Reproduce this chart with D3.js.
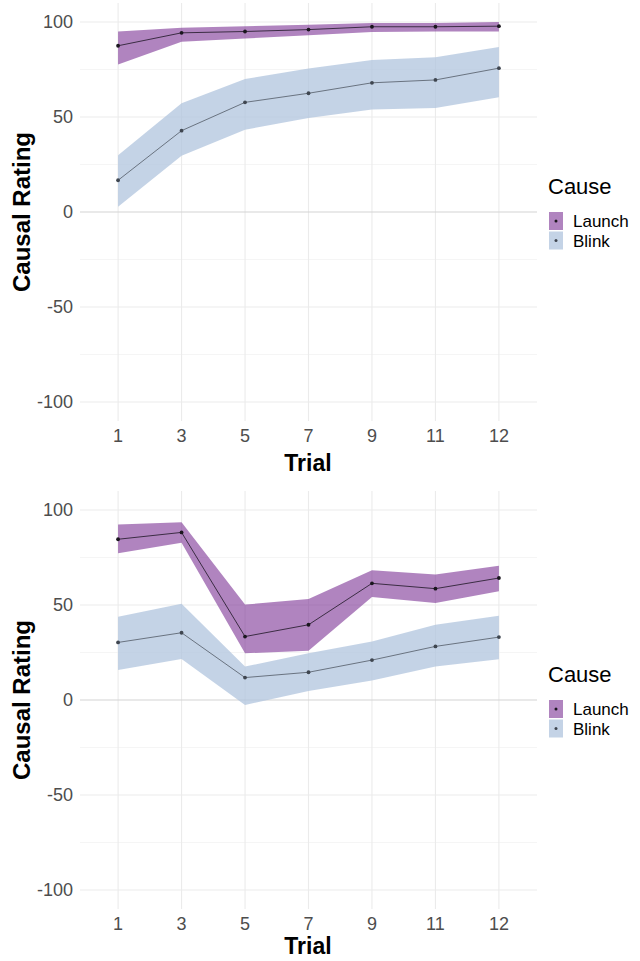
<!DOCTYPE html>
<html><head><meta charset="utf-8">
<script src="https://cdn.jsdelivr.net/npm/d3@7"></script>
<style>body{margin:0;background:#fff}svg{display:block;font-family:"Liberation Sans",Arial,sans-serif}</style>
</head><body>
<script>
const trials = ["1","3","5","7","9","11","12"];
const causes = ["Launch","Blink"];
const yTicks = [-100,-50,0,50,100];
const yMinor = [-75,-25,25,75];
// Panel 1
const launchMeanA = [87.5, 94.3, 95.0, 96.0, 97.5, 97.5, 97.8];
const launchLowA  = [77.6, 89.6, 91.3, 93.0, 94.7, 95.0, 95.0];
const launchHighA = [95.0, 97.0, 97.8, 98.5, 99.5, 99.5, 100];
const blinkMeanA  = [16.7, 42.8, 57.7, 62.5, 68.0, 69.5, 75.7];
const blinkLowA   = [2.8, 29.6, 43.3, 49.5, 53.9, 54.8, 60.4];
const blinkHighA  = [29.9, 57.2, 70.0, 75.5, 80.0, 81.5, 86.8];
// Panel 2
const launchMeanB = [84.6, 88.2, 33.4, 39.6, 61.4, 58.6, 64.2];
const launchLowB  = [77.2, 82.7, 24.6, 25.9, 54.2, 51.0, 57.2];
const launchHighB = [92.4, 93.5, 50.2, 53.2, 68.3, 66.0, 70.6];
const blinkMeanB  = [30.3, 35.4, 11.8, 14.6, 21.0, 28.2, 33.1];
const blinkLowB   = [15.8, 21.6, -2.6, 4.8, 10.2, 17.6, 21.5];
const blinkHighB  = [43.8, 50.7, 17.6, 24.6, 30.8, 39.6, 44.3];

const fills = {Launch:"#7b3294", Blink:"#b0c4de"};
const fillOp = {Launch:0.6, Blink:0.75};
const lineCol = {Launch:"#2e2236", Blink:"#5f6874"};
const ptCol = {Launch:"#1a161e", Blink:"#3f4650"};

const svg = d3.select("body").append("svg").attr("width",640).attr("height",961);

function panel(off, series, trialY){
  const g = svg.append("g").attr("transform",`translate(0,${off})`);
  const x = d3.scalePoint().domain(trials).range([80,537]).padding(0.6);
  const y = d3.scaleLinear().domain([-110,110]).range([421,3]);
  // grid
  g.selectAll(".ymin").data(yMinor).join("line")
    .attr("x1",80).attr("x2",537).attr("y1",d=>y(d)).attr("y2",d=>y(d))
    .attr("stroke","#f0f0f0").attr("stroke-width",0.7);
  g.selectAll(".ymaj").data(yTicks.filter(d=>d!==0)).join("line")
    .attr("x1",80).attr("x2",537).attr("y1",d=>y(d)).attr("y2",d=>y(d))
    .attr("stroke","#ebebeb").attr("stroke-width",1.1);
  g.selectAll(".xmaj").data(trials).join("line")
    .attr("x1",d=>x(d)).attr("x2",d=>x(d)).attr("y1",3).attr("y2",421)
    .attr("stroke","#ebebeb").attr("stroke-width",1.1);
  g.append("line").attr("x1",80).attr("x2",537).attr("y1",y(0)).attr("y2",y(0))
    .attr("stroke","#d3d3d3").attr("stroke-width",1.1);
  // ribbons
  series.forEach(s=>{
    const area = d3.area().x((d,i)=>x(trials[i])).y0((d,i)=>y(s.low[i])).y1((d,i)=>y(s.high[i]));
    g.append("path").datum(s.mean).attr("d",area).attr("fill",fills[s.name]).attr("fill-opacity",fillOp[s.name]);
  });
  series.forEach(s=>{
    const line = d3.line().x((d,i)=>x(trials[i])).y(d=>y(d));
    g.append("path").datum(s.mean).attr("d",line).attr("fill","none").attr("stroke",lineCol[s.name]).attr("stroke-width",0.9);
  });
  series.forEach(s=>{
    g.selectAll(null).data(s.mean).join("circle")
      .attr("cx",(d,i)=>x(trials[i])).attr("cy",d=>y(d)).attr("r",1.9).attr("fill",ptCol[s.name]);
  });
  // axes labels
  g.selectAll(".yl").data(yTicks).join("text")
    .attr("x",73).attr("y",d=>y(d)).attr("dy","0.35em").attr("text-anchor","end")
    .attr("font-size",18).attr("fill","#4d4d4d").text(d=>d);
  g.selectAll(".xl").data(trials).join("text")
    .attr("x",d=>x(d)).attr("y",436).attr("dy","0.35em").attr("text-anchor","middle")
    .attr("font-size",18).attr("fill","#4d4d4d").text(d=>d);
  g.append("text").attr("x",308).attr("y",trialY).attr("dy","0.35em").attr("text-anchor","middle")
    .attr("font-size",23).attr("font-weight","bold").attr("fill","#000").text("Trial");
  g.append("text").attr("transform",`translate(22,${y(0)}) rotate(-90)`).attr("dy","0.35em")
    .attr("text-anchor","middle").attr("font-size",24).attr("font-weight","bold").attr("fill","#000").text("Causal Rating");
  // legend
  g.append("text").attr("x",548).attr("y",186).attr("dy","0.35em").attr("font-size",22).attr("fill","#000").text("Cause");
  causes.forEach((c,i)=>{
    const ky = 212 + i*19.5;
    g.append("rect").attr("x",549).attr("y",ky).attr("width",14).attr("height",18)
      .attr("fill",fills[c]).attr("fill-opacity",fillOp[c]);
    g.append("circle").attr("cx",556).attr("cy",ky+9).attr("r",1.5).attr("fill",ptCol[c]);
    g.append("text").attr("x",573).attr("y",ky+9.5).attr("dy","0.35em").attr("font-size",17).attr("fill","#000").text(c);
  });
}

panel(0, [
  {name:"Launch", mean:launchMeanA, low:launchLowA, high:launchHighA},
  {name:"Blink", mean:blinkMeanA, low:blinkLowA, high:blinkHighA}
], 463);
panel(488, [
  {name:"Launch", mean:launchMeanB, low:launchLowB, high:launchHighB},
  {name:"Blink", mean:blinkMeanB, low:blinkLowB, high:blinkHighB}
], 458);
</script>
</body></html>
